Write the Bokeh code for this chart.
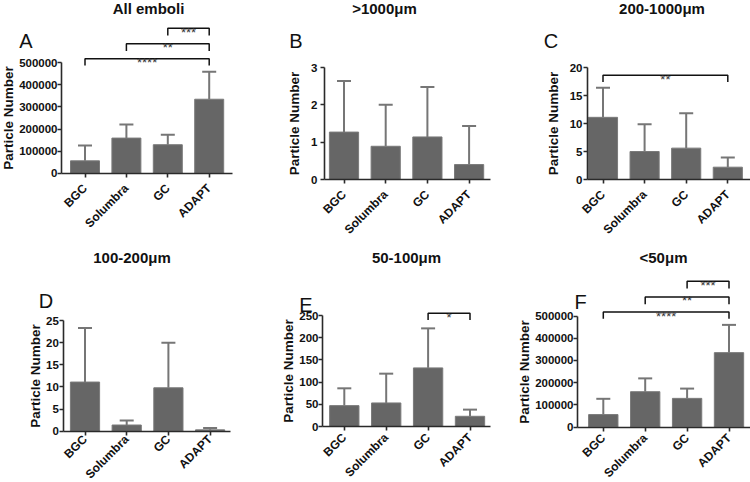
import math
from bokeh.plotting import figure
from bokeh.models import (Range1d, FixedTicker, NumeralTickFormatter, Whisker,
                          TeeHead, ColumnDataSource)
from bokeh.layouts import gridplot
from bokeh.embed import file_html
from bokeh.resources import INLINE
from bokeh.core.properties import value

# ---------------- data ----------------
groups = ["BGC", "Solumbra", "GC", "ADAPT"]

all_mean = [56000, 159000, 129000, 335000]
all_upper = [126000, 220000, 174000, 459000]

gt1000_mean = [1.27, 0.89, 1.14, 0.40]
gt1000_upper = [2.64, 2.00, 2.48, 1.43]

r200_1000_mean = [11.1, 5.0, 5.6, 2.2]
r200_1000_upper = [16.4, 9.85, 11.85, 3.95]

r100_200_mean = [11.1, 1.4, 9.8, 0.3]
r100_200_upper = [23.3, 2.4, 20.0, 0.7]

r50_100_mean = [47, 53, 132, 23]
r50_100_upper = [86, 119, 221, 38]

lt50_mean = [56000, 159000, 129000, 335000]
lt50_upper = [127000, 219000, 173000, 460000]

# significance brackets: (from group, to group, stars, bracket level, tick bottom)
all_brackets = [(0, 3, "****", 518000, 488000),
                (1, 3, "**", 586000, 553000),
                (2, 3, "***", 657000, 624000)]
c_brackets = [(0, 3, "**", 18.6, 17.4)]
e_brackets = [(2, 3, "*", 255, 240)]
lt50_brackets = all_brackets

titles = ["All emboli", ">1000\u03bcm", "200-1000\u03bcm", "100-200\u03bcm", "50-100\u03bcm", "<50\u03bcm"]
letters = ["A", "B", "C", "D", "E", "F"]

y_ticks_A = [0, 100000, 200000, 300000, 400000, 500000]
y_ticks_B = [0, 1, 2, 3]
y_ticks_C = [0, 5, 10, 15, 20]
y_ticks_D = [0, 5, 10, 15, 20, 25]
y_ticks_E = [0, 50, 100, 150, 200, 250]
y_ticks_F = y_ticks_A

# ---------------- style ----------------
FONT = "Liberation Sans"
BAR = "#666666"
BAR_EDGE = "#7a7a7a"
ERR = "#767676"
AXIS = "#2a2a2a"

# ---------------- layout (pixels in the picture) ----------------
# ox/oy: figure origin; ax: y-axis x; c0: first category centre;
# sp: px per category; ay: x-axis y; ppu: px per data unit; xr: x-axis right end
panels = [
    dict(mean=all_mean, upper=all_upper, ticks=y_ticks_A, br=all_brackets,
         ox=0, oy=0, w=250, h=241, ax=61, c0=84.5, sp=41.4, ay=172.7, ppu=110.4 / 500000,
         xr=232, mls=0, als=0, xls=9, t=(148, 7.5), L=(25.5, 40)),
    dict(mean=gt1000_mean, upper=gt1000_upper, ticks=y_ticks_B, br=[],
         ox=250, oy=0, w=250, h=241, ax=324, c0=343.5, sp=41.7, ay=179, ppu=112 / 3,
         xr=490, mls=3, als=6, xls=9, t=(384, 7.5), L=(295.5, 40)),
    dict(mean=r200_1000_mean, upper=r200_1000_upper, ticks=y_ticks_C, br=c_brackets,
         ox=500, oy=0, w=250, h=241, ax=587, c0=602.5, sp=41.6, ay=179, ppu=112 / 20,
         xr=750, mls=1, als=6, xls=9, t=(661.5, 7.5), L=(550.5, 40)),
    dict(mean=r100_200_mean, upper=r100_200_upper, ticks=y_ticks_D, br=[],
         ox=0, oy=241, w=250, h=241, ax=63.3, c0=84.5, sp=41.7, ay=430.7, ppu=110.7 / 25,
         xr=230, mls=1, als=0, xls=2, t=(131.5, 257), L=(45.5, 300)),
    dict(mean=r50_100_mean, upper=r50_100_upper, ticks=y_ticks_E, br=e_brackets,
         ox=250, oy=241, w=250, h=241, ax=322, c0=343.8, sp=41.9, ay=426, ppu=111 / 250,
         xr=490, mls=0, als=0, xls=5, t=(406, 257), L=(305.5, 304.5)),
    dict(mean=lt50_mean, upper=lt50_upper, ticks=y_ticks_F, br=lt50_brackets,
         ox=500, oy=241, w=250, h=241, ax=577, c0=602.8, sp=41.9, ay=426.5, ppu=111 / 500000,
         xr=750, mls=0, als=0, xls=5, t=(663, 257), L=(580, 301)),
]


def make_panel(cfg, title, letter):
    sp, c0, ay, ppu = cfg["sp"], cfg["c0"], cfg["ay"], cfg["ppu"]

    def dx(px):
        return (px - c0) / sp

    def dy(py):
        return (ay - py) / ppu

    p = figure(width=cfg["w"], height=cfg["h"], output_backend="svg",
               toolbar_location=None, tools="",
               x_range=Range1d(dx(cfg["ox"]), dx(cfg["ox"] + cfg["w"])),
               y_range=Range1d(dy(cfg["oy"] + cfg["h"]), dy(cfg["oy"])),
               min_border_left=0, min_border_right=0,
               min_border_top=0, min_border_bottom=0)
    p.outline_line_color = None
    p.grid.visible = False
    p.background_fill_color = "white"
    p.border_fill_color = "white"

    xs = list(range(len(groups)))
    src = ColumnDataSource(dict(x=xs, top=cfg["mean"], upper=cfg["upper"]))
    p.vbar(x="x", top="top", bottom=0, width=0.7, source=src,
           fill_color=BAR, line_color=BAR_EDGE, line_width=1)
    p.add_layout(Whisker(source=src, base="x", lower="top", upper="upper",
                         dimension="height", line_color=ERR, line_width=2,
                         lower_head=None,
                         upper_head=TeeHead(size=14, line_color=ERR, line_width=2)))

    # significance brackets
    if cfg["br"]:
        bxs, bys, tx, ty, tt = [], [], [], [], []
        for a, b, s, yl, yb in cfg["br"]:
            bxs.append([a, a, b, b])
            bys.append([yb, yl, yl, yb])
            tx.append((a + b) / 2)
            ty.append(yl)
            tt.append(s)
        p.multi_line(xs=bxs, ys=bys, line_color="#111111", line_width=1.5)
        p.text(x=tx, y=ty, text=tt, text_align="center", text_baseline="alphabetic",
               y_offset=4, text_font=value(FONT), text_font_size="13px",
               text_color="#333333")

    # axes placed at fixed data locations
    ya = p.yaxis[0]
    ya.fixed_location = dx(cfg["ax"])
    ya.ticker = FixedTicker(ticks=cfg["ticks"])
    ya.formatter = NumeralTickFormatter(format="0")
    ya.bounds = (0, cfg["ticks"][-1])
    ya.axis_label = "Particle Number"
    ya.axis_label_text_font = FONT
    ya.axis_label_text_font_style = "bold"
    ya.axis_label_text_font_size = "13.5px"
    ya.axis_label_text_color = "#111111"
    ya.axis_label_standoff = cfg["als"]
    ya.major_label_standoff = cfg["mls"]
    ya.major_label_text_font_size = "11.5px"

    xa = p.xaxis[0]
    xa.fixed_location = 0
    xa.ticker = FixedTicker(ticks=xs)
    xa.bounds = (dx(cfg["ax"]), dx(cfg["xr"]))
    xa.major_label_overrides = {i: g for i, g in enumerate(groups)}
    xa.major_label_orientation = math.pi / 4
    xa.major_label_standoff = cfg["xls"]
    xa.major_label_text_font_size = "12px"

    for ax in (xa, ya):
        ax.axis_line_color = AXIS
        ax.axis_line_width = 1.6
        ax.major_tick_line_color = AXIS
        ax.major_tick_line_width = 1.6
        ax.major_tick_out = 4
        ax.major_tick_in = 0
        ax.minor_tick_line_color = None
        ax.major_label_text_font = FONT
        ax.major_label_text_font_style = "bold"
        ax.major_label_text_color = "#111111"

    # panel title and letter
    p.text(x=[dx(cfg["t"][0])], y=[dy(cfg["t"][1])], text=[title],
           text_align="center", text_baseline="middle",
           text_font=value(FONT), text_font_style="bold", text_font_size="15px",
           text_color="#111111")
    p.text(x=[dx(cfg["L"][0])], y=[dy(cfg["L"][1])], text=[letter],
           text_align="center", text_baseline="middle",
           text_font=value(FONT), text_font_size="20px", text_color="#111111")
    return p


figs = [make_panel(c, t, l) for c, t, l in zip(panels, titles, letters)]
grid = gridplot([figs[:3], figs[3:]], toolbar_location=None)

open("out.html", "w").write(file_html(grid, INLINE))
